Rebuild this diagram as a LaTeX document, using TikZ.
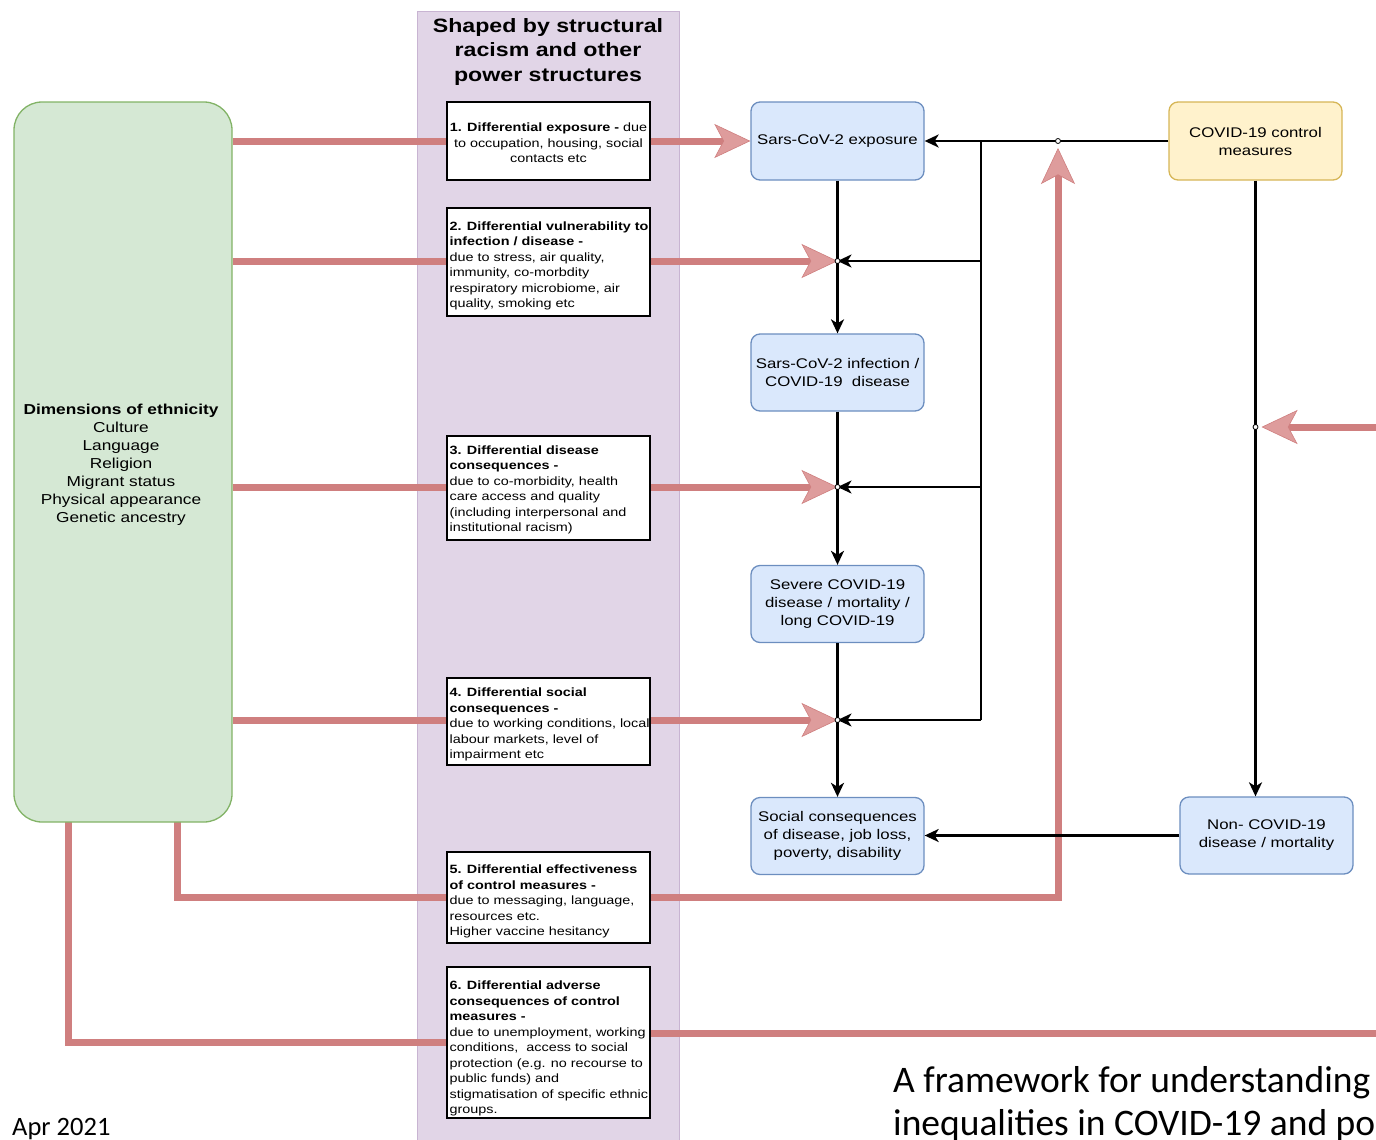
\documentclass[tikz,border=0pt]{standalone}
\usepackage{fontspec}
\setmainfont{Liberation Sans}[FakeStretch=1.2]
\newfontfamily\capfont{Carlito}
\usetikzlibrary{arrows.meta}
\definecolor{bandfill}{HTML}{E1D5E7}
\definecolor{bandline}{HTML}{C8B4D2}
\definecolor{greenfill}{HTML}{D5E8D4}
\definecolor{greenline}{HTML}{82B366}
\definecolor{bluefill}{HTML}{DAE8FC}
\definecolor{blueline}{HTML}{6C8EBF}
\definecolor{yelfill}{HTML}{FFF2CC}
\definecolor{yelline}{HTML}{D6B656}
\definecolor{redpath}{HTML}{CF7F7F}
\definecolor{redtip}{HTML}{DE9C9C}
\pgfdeclarelayer{back}
\pgfdeclarelayer{mid}
\pgfsetlayers{back,mid,main}
\tikzset{
  band/.style={fill=bandfill, draw=none, minimum width=261pt, minimum height=1150pt, inner sep=0pt},
  bluebox/.style={draw=blueline, fill=bluefill, line width=1.3pt, rounded corners=9pt,
    minimum width=173pt, minimum height=77pt, align=center, inner sep=2pt,
    font=\fontsize{14}{18}\selectfont},
  yelbox/.style={bluebox, draw=yelline, fill=yelfill},
  wbox/.style={draw=black, fill=white, line width=1.3pt, minimum width=203pt, inner sep=0pt},
  wtext/.style={anchor=west, inner xsep=3pt, inner ysep=0pt, align=left,
    font=\fontsize{12}{15.5}\selectfont},
  blk/.style={line width=2.3pt, -{Stealth[length=14pt,width=13pt,inset=4pt]}},
  blkplain/.style={line width=2.3pt},
  redplain/.style={draw=redpath, line width=7pt},
  redarrow/.style={redplain, -{Stealth[length=36pt,width=34pt,inset=9pt,fill=redtip,line width=0.6pt]}},
  dot/.style={circle, draw=black, fill=white, line width=0.8pt, inner sep=0pt, minimum size=5pt},
}
\begin{document}
\begin{tikzpicture}[x=1pt,y=-1pt]
\useasboundingbox (0,0) rectangle (1376,1140);

% vertical band for structural factors
\begin{pgfonlayer}{back}
  \node[band] (band) at (548.5,587) {};
  \draw[bandline, line width=1.3pt] (band.south west) -- (band.north west) -- (band.north east) -- (band.south east);
\end{pgfonlayer}
\node[font=\bfseries\fontsize{19.3}{24.5}\selectfont, align=center] (hdr) at (548,52)
  {Shaped by structural\\racism and other\\power structures};

% dimensions of ethnicity
\node[draw=greenline, fill=greenfill, line width=1.3pt, rounded corners=28pt,
  minimum width=218pt, minimum height=720pt, inner sep=0pt] (eth) at (123,462) {};
\node[align=center, font=\fontsize{14.4}{18}\selectfont] (ethtext) at (121,465)
  {\textbf{Dimensions of ethnicity}\\Culture\\Language\\Religion\\Migrant status\\Physical appearance\\Genetic ancestry};

% pathway boxes
\node[wbox, minimum height=78pt] (b1) at (548.5,141) {};
\node[wtext, anchor=center, align=center] (t1) at (548.5,143)
  {\textbf{1. Differential exposure -} due\\to occupation, housing, social\\contacts etc};
\node[wbox, minimum height=108pt] (b2) at (548.5,262) {};
\node[wtext] (t2) at ([yshift=-4pt]b2.west)
  {\textbf{2. Differential vulnerability to}\\\textbf{infection / disease -}\\due to stress, air quality,\\immunity, co-morbdity\\respiratory microbiome, air\\quality, smoking etc};
\node[wbox, minimum height=104pt] (b3) at (548.5,488) {};
\node[wtext] (t3) at ([yshift=-2pt]b3.west)
  {\textbf{3. Differential disease}\\\textbf{consequences -}\\due to co-morbidity, health\\care access and quality\\(including interpersonal and\\institutional racism)};
\node[wbox, minimum height=87pt] (b4) at (548.5,721.5) {};
\begin{scope}
  \clip (b4.south west) rectangle (b4.north east);
  \node[wtext] (t4) at ([yshift=-3pt]b4.west)
    {\textbf{4. Differential social}\\\textbf{consequences -}\\due to working conditions, local\\labour markets, level of\\impairment etc};
\end{scope}
\node[wbox, minimum height=91pt] (b5) at (548.5,897.5) {};
\node[wtext] (t5) at ([yshift=-4pt]b5.west)
  {\textbf{5. Differential effectiveness}\\\textbf{of control measures -}\\due to messaging, language,\\resources etc.\\Higher vaccine hesitancy};
\node[wbox, minimum height=151pt] (b6) at (548.5,1042.5) {};
\begin{scope}
  \clip (b6.south west) rectangle (b6.north east);
  \node[wtext] (t6) at ([yshift=-6pt]b6.west)
    {\textbf{6. Differential adverse}\\\textbf{consequences of control}\\\textbf{measures -}\\due to unemployment, working\\conditions,\ \ access to social\\protection (e.g. no recourse to\\public funds) and\\stigmatisation of specific ethnic\\groups.};
\end{scope}

% outcome chain
\node[bluebox, minimum height=78pt] (exp) at (837.5,141) {Sars-CoV-2 exposure};
\node[bluebox] (inf) at (837.5,372.5) {Sars-CoV-2 infection /\\COVID-19\ \ disease};
\node[bluebox] (sev) at (837.5,604) {Severe COVID-19\\disease / mortality /\\long COVID-19};
\node[bluebox] (soc) at (837.5,836) {Social consequences\\of disease, job loss,\\poverty, disability};
\node[yelbox, minimum height=78pt] (ctrl) at (1255.5,141) {COVID-19 control\\measures};
\node[bluebox] (non) at (1266.5,835.5) {Non- COVID-19\\disease / mortality};

% junction points and routing coordinates
\coordinate (j1) at (837.5,261);
\coordinate (j2) at (837.5,487);
\coordinate (j3) at (837.5,720);
\coordinate (c1) at (1058,141);
\coordinate (c2) at (1255.5,427);
\coordinate (k0) at (981,141);
\coordinate (k3) at (981,720);
\coordinate (g5) at (177,822);
\coordinate (g6) at (68,822);
\coordinate (r6) at (1420,1033);

% ethnicity-driven pathways
\begin{pgfonlayer}{mid}
  \draw[redarrow] (eth.east |- exp.west) -- (exp.west);
  \draw[redarrow] (eth.east |- j1) -- (j1);
  \draw[redarrow] (eth.east |- j2) -- (j2);
  \draw[redarrow] (eth.east |- j3) -- (j3);
  \draw[redarrow] (g5) |- (c1 |- b5.east) -- ([yshift=-7pt]c1);
  \draw[redplain] (g6) |- (b6.west);
  \draw[redarrow] (b6.east |- r6) -- (r6) |- ([xshift=6pt]c2);
\end{pgfonlayer}

% causal links
\draw[blk] (exp.south) -- (inf.north);
\draw[blk] (inf.south) -- (sev.north);
\draw[blk] (sev.south) -- (soc.north);
\draw[blk] (ctrl.west) -- (exp.east);
\draw[blkplain] (k0) -- (k3);
\draw[blk] (k0 |- j1) -- (j1);
\draw[blk] (k0 |- j2) -- (j2);
\draw[blk] (k3) -- (j3);
\draw[blk] (ctrl.south) -- (ctrl.south |- non.north);
\draw[blk] (non.west) -- (non.west -| soc.east);
\foreach \p in {j1,j2,j3,c1,c2} \node[dot] at (\p) {};

% caption and date
\node[anchor=west, inner sep=0pt, align=left, font=\capfont\fontsize{37.5}{43}\selectfont] (cap) at (893,1104)
  {A framework for understanding\\inequalities in COVID-19 and po};
\node[anchor=west, inner sep=0pt, font=\capfont\fontsize{26.5}{30}\selectfont] (date) at (12,1129) {Apr 2021};
\end{tikzpicture}
\end{document}
